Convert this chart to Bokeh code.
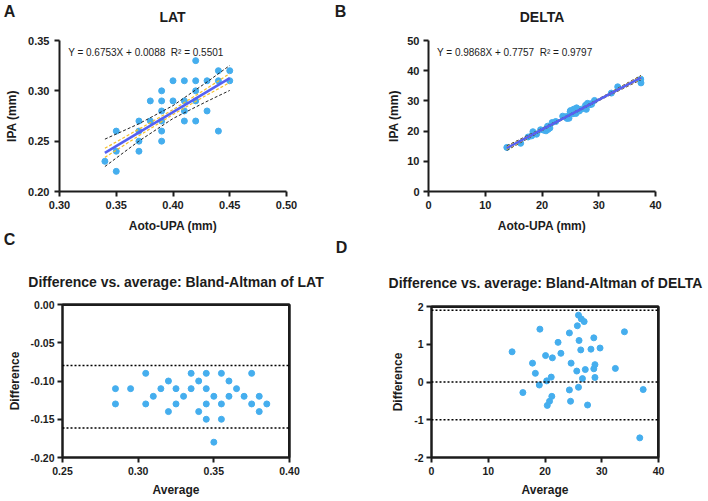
from bokeh.plotting import figure
from bokeh.models import (Range1d, FixedTicker, NumeralTickFormatter, Span, Label,
                          LinearAxis, GridBox)
from bokeh.embed import file_html
from bokeh.resources import INLINE

# ---- LAT: paired measurements (mm) ----
lat_aoto = [0.34, 0.35, 0.35, 0.35, 0.37, 0.37, 0.37, 0.37, 0.38, 0.38,
            0.39, 0.39, 0.39, 0.39, 0.39, 0.39, 0.40, 0.40, 0.41, 0.41,
            0.41, 0.41, 0.42, 0.42, 0.42, 0.42, 0.42, 0.43, 0.43, 0.44,
            0.44, 0.44, 0.45, 0.45]
lat_ipa = [0.23, 0.26, 0.24, 0.22, 0.27, 0.26, 0.25, 0.24, 0.29, 0.27,
           0.30, 0.29, 0.28, 0.27, 0.26, 0.25, 0.31, 0.29, 0.31, 0.29,
           0.28, 0.27, 0.33, 0.31, 0.30, 0.29, 0.27, 0.31, 0.28, 0.32,
           0.31, 0.26, 0.32, 0.31]
lat_slope, lat_intercept, lat_r2 = 0.6753, 0.0088, 0.5501
lat_band_x = [0.34, 0.37, 0.40, 0.43, 0.45]
lat_ci_hi = [0.2520, 0.2673, 0.2853, 0.3088, 0.3252]
lat_ci_lo = [0.2248, 0.2501, 0.2725, 0.2896, 0.3004]
lat_in_hi = [0.2429, 0.2620, 0.2813, 0.3025, 0.3172]
lat_in_lo = [0.2339, 0.2554, 0.2765, 0.2959, 0.3082]

# LAT Bland-Altman
lat_avg = [0.285, 0.285, 0.295, 0.305, 0.305, 0.310, 0.315, 0.320, 0.320, 0.325,
           0.325, 0.330, 0.335, 0.335, 0.340, 0.340, 0.345, 0.345, 0.345, 0.345,
           0.350, 0.350, 0.355, 0.355, 0.355, 0.360, 0.360, 0.365, 0.370, 0.375,
           0.375, 0.380, 0.380, 0.385]
lat_diff = [-0.11, -0.13, -0.11, -0.09, -0.13, -0.12, -0.11, -0.10, -0.14, -0.11,
            -0.13, -0.12, -0.09, -0.11, -0.10, -0.14, -0.09, -0.11, -0.13, -0.15,
            -0.12, -0.18, -0.09, -0.13, -0.15, -0.10, -0.12, -0.11, -0.12, -0.09,
            -0.13, -0.12, -0.14, -0.13]
lat_loa = [-0.0797, -0.1614]

# ---- DELTA: paired measurements (mm) ----
delta_aoto = [13.80, 16.24, 17.55, 18.19, 18.40, 19.04, 19.75, 20.29, 20.71, 21.06,
              21.04, 21.39, 20.98, 21.78, 22.42, 24.41, 23.65, 24.35, 24.76, 25.46,
              24.96, 25.02, 25.97, 25.45, 25.88, 25.57, 26.56, 26.10, 26.94, 27.81,
              27.67, 28.02, 28.43, 28.57, 28.74, 29.25, 32.22, 33.34, 37.44, 37.40]
delta_ipa = [14.60, 15.96, 18.05, 18.42, 19.80, 18.96, 20.45, 20.31, 20.09, 20.55,
             21.17, 21.01, 21.62, 22.83, 23.18, 24.20, 24.95, 24.85, 24.25, 25.75,
             26.45, 26.79, 25.83, 26.55, 26.73, 27.24, 26.65, 27.70, 27.27, 27.20,
             28.54, 29.19, 28.78, 29.03, 28.86, 30.15, 32.58, 34.67, 35.96, 37.20]
delta_slope, delta_intercept, delta_r2 = 0.9868, 0.7757, 0.9797
delta_band_x = [13.8, 20.0, 25.5, 31.0, 37.44]
delta_ci_hi = [15.14, 20.86, 26.19, 31.72, 38.42]
delta_ci_lo = [13.64, 20.16, 25.69, 31.02, 37.02]
delta_in_hi = [14.84, 20.71, 26.09, 31.57, 38.17]
delta_in_lo = [13.94, 20.31, 25.79, 31.17, 37.27]

# DELTA Bland-Altman
delta_avg = [14.2, 16.1, 17.8, 18.3, 19.1, 19.0, 20.1, 20.3, 20.4, 20.8,
             21.1, 21.2, 21.3, 22.3, 22.8, 24.3, 24.3, 24.6, 24.5, 25.6,
             25.7, 25.9, 25.9, 26.0, 26.3, 26.4, 26.6, 26.9, 27.1, 27.5,
             28.1, 28.6, 28.6, 28.8, 28.8, 29.7, 32.4, 34.0, 36.7, 37.3]
delta_diff = [0.80, -0.28, 0.50, 0.23, 1.40, -0.08, 0.70, 0.03, -0.62, -0.51,
              0.13, -0.38, 0.64, 1.05, 0.76, -0.21, 1.30, 0.50, -0.51, 0.29,
              1.49, 1.77, -0.14, 1.10, 0.85, 1.67, 0.09, 1.60, 0.33, -0.61,
              0.87, 1.17, 0.35, 0.46, 0.12, 0.90, 0.36, 1.33, -1.48, -0.20]
delta_loa = [1.90, 0.0, -1.00]

FONT = "Liberation Sans"
INK = "#1c1c1c"
DOT = "#45AEEE"
FIT = "#5560F2"
GOLD = "#F5C02A"
W, H = 708, 501


def style_axis(ax, ticks, fmt, lab, tick_size, tick_standoff, label_standoff):
    ax.ticker = FixedTicker(ticks=ticks)
    ax.formatter = NumeralTickFormatter(format=fmt)
    ax.axis_line_width = 2
    ax.axis_line_color = INK
    ax.major_tick_line_width = 2
    ax.major_tick_line_color = INK
    ax.major_tick_out = 5
    ax.major_tick_in = 0
    ax.minor_tick_line_color = None
    ax.major_label_text_font = FONT
    ax.major_label_text_font_style = "bold"
    ax.major_label_text_font_size = tick_size
    ax.major_label_text_color = INK
    ax.major_label_standoff = tick_standoff
    ax.axis_label = lab
    ax.axis_label_text_font = FONT
    ax.axis_label_text_font_style = "bold"
    ax.axis_label_text_font_size = "12px"
    ax.axis_label_text_color = INK
    ax.axis_label_standoff = label_standoff


def make_panel(w, h, left, top, fw, fh, xr, yr, xticks, yticks, xfmt, yfmt,
               xlabel, ylabel, boxed, tick_size, x_offsets, y_offsets):
    p = figure(width=w, height=h, x_range=Range1d(*xr), y_range=Range1d(*yr),
               output_backend="svg", toolbar_location=None,
               min_border_left=left, min_border_right=w - left - fw,
               min_border_top=top, min_border_bottom=h - top - fh)
    p.frame_align = False
    p.grid.visible = False
    p.background_fill_color = "white"
    p.border_fill_color = "white"
    style_axis(p.xaxis[0], xticks, xfmt, xlabel, tick_size, *x_offsets)
    style_axis(p.yaxis[0], yticks, yfmt, ylabel, tick_size, *y_offsets)
    if boxed:
        p.outline_line_color = INK
        p.outline_line_width = 2
        # closing top and right edges of the box frame
        for side in ("above", "right"):
            edge = LinearAxis(ticker=FixedTicker(ticks=[]), axis_line_width=2,
                              axis_line_color=INK, major_tick_out=0, major_tick_in=0,
                              minor_tick_line_color=None, major_label_standoff=0,
                              major_label_text_font_size="0px")
            p.add_layout(edge, side)
        p.add_layout(Span(location=yr[1], dimension="width", line_color=INK,
                          line_width=3))
        p.add_layout(Span(location=xr[1], dimension="height", line_color=INK,
                          line_width=3))
    else:
        p.outline_line_color = None
    return p


def regression(p, xs, ys, slope, intercept, bx, ci_hi, ci_lo, in_hi, in_lo):
    p.scatter(xs, ys, size=6, color=DOT, line_color=DOT)
    p.line(bx, ci_hi, line_color="#222222", line_width=1, line_dash="3 2")
    p.line(bx, ci_lo, line_color="#222222", line_width=1, line_dash="3 2")
    p.line(bx, in_hi, line_color=GOLD, line_width=1.2, line_dash="3 2")
    p.line(bx, in_lo, line_color=GOLD, line_width=1.2, line_dash="3 2")
    x_lo, x_hi = min(xs), max(xs)
    p.line([x_lo, x_hi], [slope * x_lo + intercept, slope * x_hi + intercept],
           line_color=FIT, line_width=2.5)


def equation(p, x, y, slope, intercept, r2):
    gap = "\u00a0"
    s = f"Y = {slope:.4f}X + {intercept:.4f}{gap}{gap}R\u00b2 = {r2:.4f}"
    p.add_layout(Label(x=x, y=y, text=s, text_font=FONT, text_font_size="10px",
                       text_color=INK, text_align="left", text_baseline="middle"))


def limit_lines(p, levels):
    for v in levels:
        p.add_layout(Span(location=v, dimension="width", line_color="#000000",
                          line_width=1.5, line_dash="2 2"))


# Panel A: LAT regression
pA = make_panel(354, 250, 59, 40, 227, 151, (0.30, 0.50), (0.20, 0.35),
                [0.30, 0.35, 0.40, 0.45, 0.50], [0.20, 0.25, 0.30, 0.35],
                "0.00", "0.00", "Aoto-UPA (mm)", "IPA (mm)", False,
                "11px", (4, 7), (5, 6))
regression(pA, lat_aoto, lat_ipa, lat_slope, lat_intercept,
           lat_band_x, lat_ci_hi, lat_ci_lo, lat_in_hi, lat_in_lo)
equation(pA, 0.3076, 0.3381, lat_slope, lat_intercept, lat_r2)

# Panel B: DELTA regression
pB = make_panel(354, 250, 74, 40, 227, 151, (0, 40), (0, 50),
                [0, 10, 20, 30, 40], [0, 10, 20, 30, 40, 50],
                "0", "0", "Aoto-UPA (mm)", "IPA (mm)", False,
                "11px", (4, 7), (4, 3))
regression(pB, delta_aoto, delta_ipa, delta_slope, delta_intercept,
           delta_band_x, delta_ci_hi, delta_ci_lo, delta_in_hi, delta_in_lo)
equation(pB, 1.5, 46.0, delta_slope, delta_intercept, delta_r2)

# Panel C: LAT Bland-Altman
pC = make_panel(354, 251, 62, 54, 227, 153, (0.25, 0.40), (-0.20, 0.0),
                [0.25, 0.30, 0.35, 0.40], [-0.20, -0.15, -0.10, -0.05, 0.0],
                "0.00", "0.00", "Average", "Difference", True,
                "10.5px", (4, 5), (3, 6))
pC.scatter(lat_avg, lat_diff, size=6, color=DOT, line_color=DOT)
limit_lines(pC, lat_loa)

# Panel D: DELTA Bland-Altman
pD = make_panel(354, 251, 77, 56, 227, 151, (0, 40), (-2, 2),
                [0, 10, 20, 30, 40], [-2, -1, 0, 1, 2],
                "0", "0", "Average", "Difference", True,
                "10.5px", (4, 5), (3, 6))
pD.scatter(delta_avg, delta_diff, size=6, color=DOT, line_color=DOT)
limit_lines(pD, delta_loa)

# Transparent sheet over the whole page carrying panel letters and titles
sheet = figure(width=W, height=H, x_range=Range1d(0, W), y_range=Range1d(H, 0),
               x_axis_type=None, y_axis_type=None, output_backend="svg",
               toolbar_location=None, min_border=0)
sheet.frame_align = False
sheet.grid.visible = False
sheet.outline_line_color = None
sheet.background_fill_color = None
sheet.border_fill_color = None

headings = [
    ("A", 9, 11, "16px"), ("B", 340, 11, "16px"),
    ("C", 9, 239, "16px"), ("D", 341, 247, "16px"),
    ("LAT", 172, 16, "14px"), ("DELTA", 541.5, 16, "14px"),
    ("Difference vs. average: Bland-Altman of LAT", 175.5, 281, "14px"),
    ("Difference vs. average: Bland-Altman of DELTA", 545, 282, "14px"),
]
for s, x, y, size in headings:
    sheet.add_layout(Label(x=x, y=y, text=s, text_font=FONT, text_font_size=size,
                           text_font_style="bold", text_color=INK,
                           text_align="center", text_baseline="middle"))

grid = GridBox(children=[(pA, 0, 0), (pB, 0, 1), (pC, 1, 0), (pD, 1, 1),
                         (sheet, 0, 0, 2, 2)])
open("out.html", "w").write(file_html(grid, INLINE))
